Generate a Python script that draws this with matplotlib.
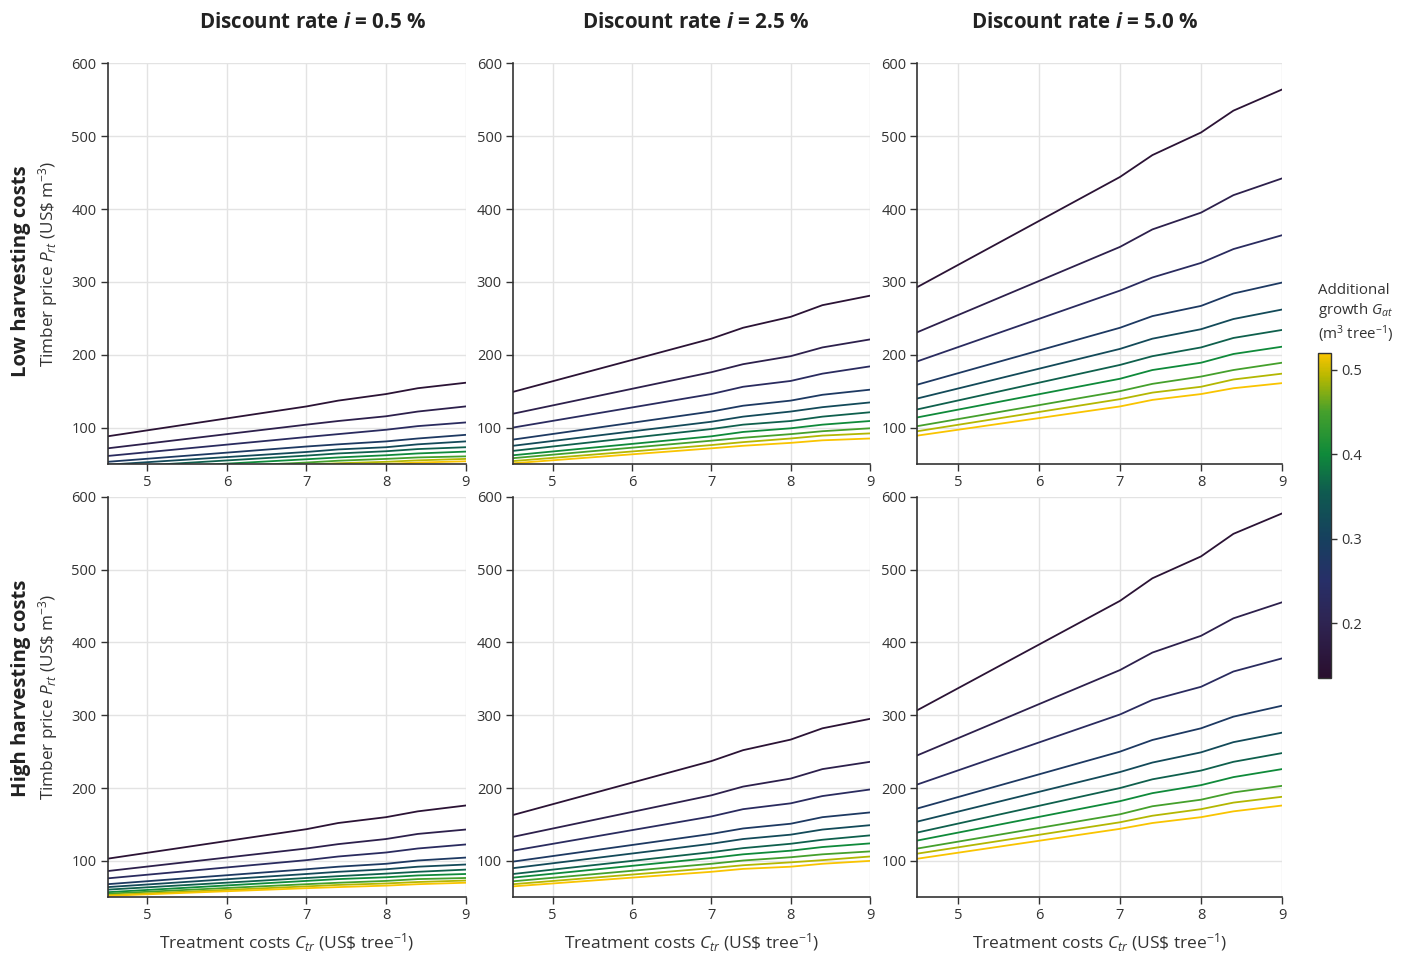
import matplotlib
matplotlib.use("Agg")
import matplotlib.pyplot as plt
import matplotlib.colors as mcolors
import numpy as np

plt.rcParams['font.family'] = ['Open Sans', 'DejaVu Sans']
plt.rcParams['mathtext.fontset'] = 'custom'
plt.rcParams['mathtext.rm'] = 'Open Sans'
plt.rcParams['mathtext.it'] = 'Open Sans:italic'
plt.rcParams['mathtext.bf'] = 'Open Sans:bold'
plt.rcParams['mathtext.bfit'] = 'Open Sans:bold:italic'

# treatment costs (x) where the curves are sampled
treat_cost = [4.5, 7, 7.4, 8, 8.4, 9]
# additional growth of each curve (colour)
growth = [0.15, 0.19, 0.23, 0.28, 0.32, 0.36, 0.40, 0.45, 0.49, 0.52]
discount_labels = ['0.5', '2.5', '5.0']
row_labels = ['Low harvesting costs', 'High harvesting costs']

# timber price per curve, low harvesting costs
low_05 = [
    [88, 129, 137, 146, 154, 161.5],
    [71.5, 104, 109, 115.5, 122, 129],
    [61, 87, 91, 97, 102, 107],
    [53, 74, 77, 81, 85, 90],
    [49, 66.5, 70, 73, 77, 81],
    [45, 61.5, 64.5, 67.5, 70.5, 73],
    [41.5, 56.5, 59, 62, 64.5, 67],
    [39, 52, 54.5, 57, 59, 60.5],
    [37, 49, 51, 53, 55, 57],
    [35, 46, 48, 50, 52, 53.7],
]
low_25 = [
    [149, 222, 237, 252, 268, 281],
    [119, 176, 187, 198, 210, 221],
    [100, 146, 156, 164, 174, 184],
    [83.5, 122, 130, 137, 145, 152],
    [75, 108, 115, 122, 128, 134.5],
    [68, 98, 104, 109, 115, 121],
    [62, 88, 94, 99, 104, 109],
    [58, 82, 86, 91, 95, 99],
    [54, 76, 80, 85, 89, 92],
    [51, 71.5, 75, 79, 82.5, 85],
]
low_50 = [
    [293, 444, 474, 505, 535, 564],
    [231, 348, 372, 395, 419, 442],
    [191, 288, 306, 326, 345, 364],
    [159, 237, 253, 267, 284, 299],
    [140, 208, 222, 235, 249, 262],
    [125, 186, 198, 210, 223, 234],
    [114, 167, 179, 189, 201, 211],
    [102, 150, 160, 170, 179, 189],
    [95, 139, 148, 156, 166, 174],
    [89, 129, 138, 146, 154, 161],
]
# timber price per curve, high harvesting costs
high_05 = [
    [103, 143.5, 152, 160, 168, 176],
    [86, 117, 123, 130, 137, 143],
    [76, 101, 106, 111.5, 117, 122.5],
    [68, 88.5, 92, 96, 100.5, 104.5],
    [64, 82, 85, 88.5, 92, 95],
    [60.5, 76.5, 79, 82.5, 85, 88],
    [57, 72.5, 75, 77.5, 80, 82],
    [55, 68, 70, 72.5, 75, 76.5],
    [53, 65, 67, 69, 71, 73],
    [52, 62.5, 64, 66, 68, 70],
]
high_25 = [
    [163, 237, 252, 266.5, 282, 295],
    [133, 190, 202, 213, 226, 236],
    [114, 161, 171, 179, 189, 198],
    [99, 137, 144.5, 151, 160, 166.5],
    [90, 123.5, 130, 136, 143, 149],
    [82, 112, 117.5, 123.5, 129, 135],
    [77, 104, 109, 114, 119, 124],
    [72, 96, 100.5, 105, 109, 113],
    [68, 90, 94, 98, 101, 106],
    [65, 85, 89, 92, 96, 100],
]
high_50 = [
    [307, 457, 488, 518, 549, 577],
    [245, 362, 386, 409, 433, 455],
    [205, 301, 321, 339, 360, 378],
    [172, 250, 266, 282, 298, 313],
    [154, 222, 235, 249, 263, 276],
    [139, 200, 212, 224, 236, 248],
    [128, 182, 193, 204, 215, 226],
    [117, 164, 175, 184, 194, 203],
    [110, 153, 162, 171, 180, 188],
    [103, 144, 152, 160, 168, 176],
]
panels = [[low_05, low_25, low_50], [high_05, high_25, high_50]]

# dark purple -> navy -> teal -> green -> gold, as in the original colour bar
cmap = mcolors.LinearSegmentedColormap.from_list('growth', [
    (0.00, '#2a0e2e'),
    (0.17, '#2e2452'),
    (0.30, '#272f68'),
    (0.43, '#16405e'),
    (0.57, '#0f5a50'),
    (0.69, '#0f8a3a'),
    (0.82, '#45a02c'),
    (0.93, '#b8b800'),
    (1.00, '#f9c400'),
])
norm = mcolors.Normalize(vmin=0.135, vmax=0.52)

W, H = 1405, 958
fig = plt.figure(figsize=(W / 100, H / 100), dpi=100, facecolor='white')

# axes boxes in pixels: (left, right)
col_px = [(107.5, 465.5), (513, 870), (917.5, 1282)]
row_px = [(63.3, 464), (496.7, 897.3)]
title_x = [312, 695, 1084]
row_title_y = [271, 688]

text_col = '#333333'
spine_col = '#333333'

for r, (top, bot) in enumerate(row_px):
    for c, (lft, rgt) in enumerate(col_px):
        ax = fig.add_axes([lft / W, 1 - bot / H, (rgt - lft) / W, (bot - top) / H])
        for k, ys in enumerate(panels[r][c]):
            ax.plot(treat_cost, ys, color=cmap(norm(growth[k])), lw=1.3,
                    solid_joinstyle='round')
        ax.set_xlim(4.5, 9)
        ax.set_ylim(50, 600)
        ax.set_xticks([5, 6, 7, 8, 9])
        ax.set_yticks([100, 200, 300, 400, 500, 600])
        ax.grid(True, color='#e3e3e3', lw=1.0)
        ax.set_axisbelow(True)
        for s in ['top', 'right']:
            ax.spines[s].set_visible(False)
        for s in ['left', 'bottom']:
            ax.spines[s].set_color(spine_col)
            ax.spines[s].set_linewidth(1.2)
        ax.tick_params(direction='out', length=5, width=1, color=spine_col,
                       labelcolor=text_col, labelsize=10.5, pad=3)
        if c == 0:
            ax.set_ylabel(r'Timber price $P_{rt}$ (US\$ m$^{-3}$)', fontsize=12.3,
                          color=text_col, labelpad=8)
        if r == 1:
            ax.set_xlabel(r'Treatment costs $C_{tr}$ (US\$ tree$^{-1}$)', fontsize=12.5,
                          color=text_col, labelpad=6)

# column titles
for c in range(3):
    fig.text(title_x[c] / W, 1 - 22 / H,
             r'Discount rate $\mathbfit{i}$ = ' + discount_labels[c] + ' %',
             ha='center', va='center', fontsize=14.8, fontweight='bold', color='#222222')

# row titles
for r in range(2):
    fig.text(21 / W, 1 - row_title_y[r] / H, row_labels[r], rotation=90,
             ha='center', va='center', fontsize=14.6, fontweight='bold', color='#222222')

# colour bar
cax = fig.add_axes([1318 / W, 1 - 678 / H, 13 / W, 325 / H])
sm = plt.cm.ScalarMappable(norm=norm, cmap=cmap)
cb = fig.colorbar(sm, cax=cax)
cb.set_ticks([0.2, 0.3, 0.4, 0.5])
cb.ax.tick_params(length=4, width=1, color=text_col, labelcolor=text_col, labelsize=10.5)
cb.outline.set_edgecolor(spine_col)
cb.outline.set_linewidth(1.0)
fig.text(1318 / W, 1 - 314 / H,
         'Additional\ngrowth $G_{at}$\n(m$^{3}$ tree$^{-1}$)',
         ha='left', va='center', fontsize=10.8, color=text_col, linespacing=1.2)

fig.savefig('out.png', dpi=100, facecolor='white')
